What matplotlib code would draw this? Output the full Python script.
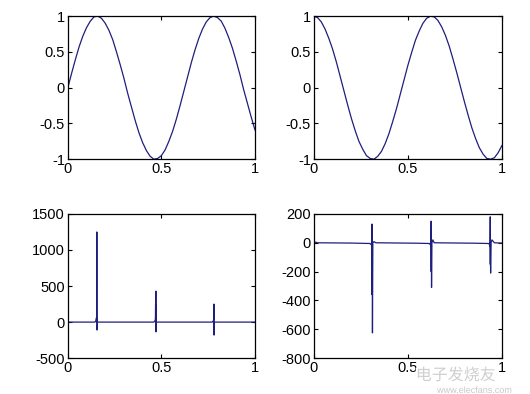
import matplotlib
matplotlib.use('Agg')
import matplotlib.pyplot as plt
import matplotlib.patheffects as pe

plt.rcParams['font.family'] = ['Liberation Sans', 'DejaVu Sans']
plt.rcParams['axes.unicode_minus'] = False

t = [i * 0.02 for i in range(51)]
sin_vals = [0.00, 0.20, 0.39, 0.57, 0.72, 0.84, 0.93, 0.99, 1.00, 0.97,
            0.90, 0.80, 0.67, 0.50, 0.32, 0.13, -0.08, -0.27, -0.46, -0.63,
            -0.77, -0.88, -0.96, -1.00, -0.99, -0.95, -0.87, -0.75, -0.61, -0.44,
            -0.25, -0.05, 0.15, 0.35, 0.53, 0.69, 0.82, 0.92, 0.98, 1.00,
            0.98, 0.93, 0.83, 0.70, 0.55, 0.37, 0.18, -0.03, -0.22, -0.41,
            -0.59]
cos_vals = [1.00, 0.98, 0.92, 0.82, 0.69, 0.54, 0.36, 0.16, -0.04, -0.24,
            -0.43, -0.60, -0.75, -0.86, -0.95, -0.99, -1.00, -0.96, -0.89, -0.78,
            -0.64, -0.47, -0.29, -0.09, 0.11, 0.31, 0.49, 0.66, 0.79, 0.90,
            0.97, 1.00, 0.99, 0.94, 0.85, 0.73, 0.58, 0.40, 0.21, 0.01,
            -0.19, -0.38, -0.56, -0.71, -0.84, -0.93, -0.99, -1.00, -0.98, -0.91,
            -0.81]

# spike traces
spk1_t = [0.0, 0.145, 0.150, 0.153, 0.154, 0.155, 0.156, 0.158,
          0.460, 0.466, 0.468, 0.469, 0.4695, 0.470, 0.4705, 0.471, 0.473,
          0.772, 0.778, 0.780, 0.781, 0.7815, 0.782, 0.7825, 0.783, 0.785, 1.0]
spk1_v = [0, 0, 20, 60, 0, 1250, -110, 0,
          0, 20, 40, 240, 0, 240, 430, -135, 0,
          0, 20, 30, 250, -180, 0, -150, 0, 0, 0]

spk2_t = [0.0, 0.02, 0.20, 0.300, 0.306, 0.309, 0.310, 0.3105, 0.311, 0.3115, 0.312, 0.314, 0.320, 0.33,
          0.55, 0.615, 0.620, 0.623, 0.624, 0.6245, 0.625, 0.6255, 0.626, 0.628, 0.633, 0.64,
          0.86, 0.930, 0.935, 0.937, 0.938, 0.9385, 0.939, 0.9395, 0.940, 0.942, 0.947, 0.96, 1.0]
spk2_v = [8, 0, -2, -5, -15, -25, 130, -360, 0, -360, -625, 0, 8, 0,
          -3, -5, -15, -25, 150, -200, 0, -200, -310, 0, 20, 0,
          -3, -5, -15, -25, 180, -150, 0, -150, -210, 0, 20, 0, -2]

line_color = '#1e1e7c'

fig = plt.figure(figsize=(5.3, 3.94), dpi=100)
fig.patch.set_facecolor('white')

boxes = [[0.128, 0.596, 0.353, 0.363], [0.592, 0.596, 0.355, 0.363],
         [0.128, 0.091, 0.353, 0.366], [0.592, 0.091, 0.355, 0.366]]
axs = [fig.add_axes(b) for b in boxes]

axs[0].plot(t, sin_vals, color=line_color, lw=0.9)
axs[1].plot(t, cos_vals, color=line_color, lw=0.9)
axs[2].plot(spk1_t, spk1_v, color=line_color, lw=0.9)
axs[3].plot(spk2_t, spk2_v, color=line_color, lw=0.9)

for ax in axs[:2]:
    ax.set_ylim(-1, 1)
    ax.set_yticks([-1, -0.5, 0, 0.5, 1])
    ax.set_yticklabels(['-1', '-0.5', '0', '0.5', '1'])
axs[2].set_ylim(-500, 1500)
axs[2].set_yticks([-500, 0, 500, 1000, 1500])
axs[3].set_ylim(-800, 200)
axs[3].set_yticks([-800, -600, -400, -200, 0, 200])

for ax in axs:
    ax.set_xlim(0, 1)
    ax.set_xticks([0, 0.5, 1])
    ax.set_xticklabels(['0', '0.5', '1'])
    ax.tick_params(direction='in', top=True, right=True, length=3, width=0.8,
                   labelsize=10.5, pad=2, colors='black')
    for s in ax.spines.values():
        s.set_linewidth(0.9)

# site watermark, kept just below the tick labels
fig.text(0.86, 0.047, '电子发烧友', fontsize=11.5, color='#cfcfcf', ha='center', va='center',
         family=['Noto Sans CJK SC', 'DejaVu Sans'], style='italic',
         path_effects=[pe.withStroke(linewidth=3, foreground='white')])
fig.text(0.895, 0.009, 'www.elecfans.com', fontsize=6.5, color='#c8c8c8', ha='center', va='center',
         path_effects=[pe.withStroke(linewidth=2, foreground='white')])

fig.savefig('out.png', dpi=100)
